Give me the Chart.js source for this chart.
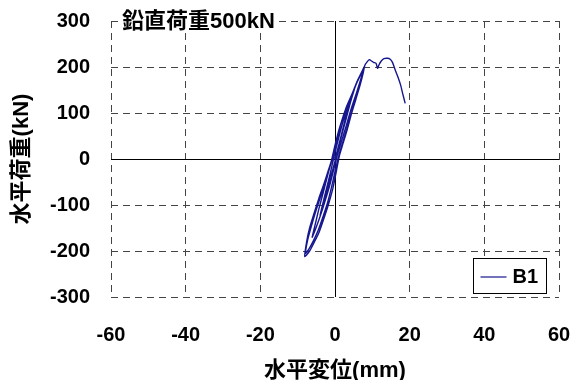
<!DOCTYPE html>
<html>
<head>
<meta charset="utf-8">
<script src="https://cdn.jsdelivr.net/npm/chart.js@4"></script>
<style>
  html, body { margin: 0; padding: 0; background: #fff; }
  #wrap { width: 571px; height: 380px; }
</style>
</head>
<body>
<div id="wrap"><canvas id="mainChart" width="571" height="380"></canvas></div>
<script>
const FONT = "'Liberation Sans', 'Noto Sans CJK JP', Arial, sans-serif";
const LINE_COLOR = '#16168f';

const seriesLabel = 'B1';
const chartTitle = '鉛直荷重500kN';
const xTitle = '水平変位(mm)';
const yTitle = '水平荷重(kN)';
const xTicks = [-60, -40, -20, 0, 20, 40, 60];
const yTicks = [-300, -200, -100, 0, 100, 200, 300];

// horizontal displacement (mm)
const dispX = [
    0, 1.0, 2.0, 3.0, 3.6, 2.8, 1.6, 0.5, -0.4, -1.3, -2.3, -3.3, -4.0, -3.2, -2.1, -1.0, 0.0, 1.0,
    2.0, 3.0, 4.2, 5.5, 4.6, 3.2, 1.8, 0.4, -0.6, -1.8, -3.0, -4.3, -5.3, -6.1, -5.2, -4.0, -2.8, -1.5, -0.4, 0.6,
    1.8, 3.0, 4.3, 5.6, 6.7, 7.5, 7.9,
    7.2, 6.0, 4.5, 3.0, 1.5, 0.2, -0.8, -1.8, -3.0, -4.3, -5.6, -6.8, -7.6, -8.1,
    -6.8, -5.5, -4.2, -3.0, -1.8, -0.6, 0.4, 1.2, 2.2, 3.2, 4.4, 5.6, 6.7, 7.5, 7.8,
    7.0, 5.8, 4.2, 2.8, 1.3, 0.0, -1.0, -2.2, -3.6, -5.0, -6.3, -7.3, -7.9,
    -7.0, -5.8, -4.5, -3.2, -2.0, -0.9, 0.2, 1.1, 2.3, 3.5, 4.7, 5.9, 6.9, 7.6, 8.0,
    8.5, 9.2, 9.8, 10.3, 11.0, 11.4, 11.8, 12.4, 13.1, 14.0, 14.8, 15.4, 16.2, 17.0, 17.6, 18.2, 18.8
];

// horizontal load (kN)
const loadY = [
    0, 30, 62, 95, 118, 100, 65, 30, 0, -32, -65, -98, -122, -100, -68, -35, -5, 28,
    58, 88, 125, 160, 142, 108, 72, 35, 5, -30, -68, -108, -142, -170, -152, -125, -95, -60, -25, 8,
    40, 72, 108, 140, 168, 190, 202,
    190, 170, 140, 112, 75, 35, 0, -25, -55, -85, -118, -150, -180, -212,
    -200, -180, -158, -130, -100, -65, -25, 8, 35, 62, 98, 130, 160, 185, 198,
    185, 165, 132, 105, 70, 30, -5, -38, -75, -110, -145, -175, -205,
    -196, -178, -155, -125, -95, -60, -20, 10, 42, 75, 108, 140, 170, 192, 204,
    210, 216, 213, 210, 208, 197, 205, 213, 218, 219, 217, 210, 192, 175, 160, 140, 121
];

const points = dispX.map((x, i) => ({ x: x, y: loadY[i] }));

// zero lines, title box and legend box like the original sheet
const decorPlugin = {
    id: 'decor',
    beforeDatasetsDraw(chart) {
        const { ctx, chartArea, scales } = chart;
        const x0 = Math.round(scales.x.getPixelForValue(0)) + 0.5;
        const y0 = Math.round(scales.y.getPixelForValue(0)) + 0.5;
        ctx.save();
        ctx.strokeStyle = '#000';
        ctx.lineWidth = 1;
        ctx.beginPath();
        ctx.moveTo(x0, chartArea.top);
        ctx.lineTo(x0, chartArea.bottom);
        ctx.moveTo(chartArea.left, y0);
        ctx.lineTo(chartArea.right, y0);
        ctx.stroke();
        ctx.restore();
    },
    afterDraw(chart) {
        const { ctx, chartArea } = chart;
        ctx.save();
        // title sitting on the top border
        ctx.font = 'bold 22px ' + FONT;
        const tw = ctx.measureText(chartTitle).width;
        ctx.fillStyle = '#fff';
        ctx.fillRect(chartArea.left + 7, chartArea.top - 10, tw + 8, 21);
        ctx.fillStyle = '#000';
        ctx.textBaseline = 'middle';
        ctx.fillText(chartTitle, chartArea.left + 11, chartArea.top + 1);

        // legend box
        const bx = 473.5, by = 258.5, bw = 73, bh = 35;
        ctx.fillStyle = '#fff';
        ctx.fillRect(bx, by, bw, bh);
        ctx.strokeStyle = '#000';
        ctx.lineWidth = 1;
        ctx.strokeRect(bx, by, bw, bh);
        ctx.strokeStyle = LINE_COLOR;
        ctx.lineWidth = 1.2;
        ctx.beginPath();
        ctx.moveTo(bx + 7, by + 18.5);
        ctx.lineTo(bx + 33, by + 18.5);
        ctx.stroke();
        ctx.fillStyle = '#000';
        ctx.font = 'bold 20px ' + FONT;
        ctx.fillText(seriesLabel, bx + 39, by + 19);
        ctx.restore();
    }
};

new Chart(document.getElementById('mainChart').getContext('2d'), {
    type: 'scatter',
    data: {
        datasets: [{
            label: seriesLabel,
            data: points,
            showLine: true,
            borderColor: LINE_COLOR,
            backgroundColor: LINE_COLOR,
            borderWidth: 1.4,
            pointRadius: 0,
            tension: 0.2
        }]
    },
    options: {
        responsive: false,
        animation: false,
        layout: { padding: { left: 0, top: 21, right: 12, bottom: 0 } },
        plugins: {
            legend: { display: false },
            tooltip: { enabled: false }
        },
        scales: {
            x: {
                type: 'linear',
                min: -60,
                max: 60,
                afterBuildTicks: axis => { axis.ticks = xTicks.map(v => ({ value: v })); },
                afterFit: axis => {
                    axis.height = 83;
                    axis.paddingLeft = 0;
                    axis.paddingRight = 0;
                },
                grid: { color: '#444', lineWidth: 1, drawTicks: false },
                border: { display: false, dash: [7, 5] },
                ticks: {
                    color: '#000',
                    padding: 26,
                    maxRotation: 0,
                    font: { family: FONT, size: 20, weight: 'bold' }
                },
                title: {
                    display: true,
                    text: xTitle,
                    color: '#000',
                    padding: { top: 0, bottom: -2 },
                    font: { family: FONT, size: 22, weight: 'bold', lineHeight: 1 }
                }
            },
            y: {
                type: 'linear',
                min: -300,
                max: 300,
                afterBuildTicks: axis => { axis.ticks = yTicks.map(v => ({ value: v })); },
                afterFit: axis => {
                    axis.width = 111;
                    axis.paddingTop = 0;
                    axis.paddingBottom = 0;
                },
                grid: { color: '#444', lineWidth: 1, drawTicks: false },
                border: { display: false, dash: [7, 5] },
                ticks: {
                    color: '#000',
                    padding: 21,
                    font: { family: FONT, size: 20, weight: 'bold' }
                },
                title: {
                    display: true,
                    text: yTitle,
                    color: '#000',
                    padding: { top: 11, bottom: 0 },
                    font: { family: FONT, size: 22, weight: 'bold', lineHeight: 1 }
                }
            }
        }
    },
    plugins: [decorPlugin]
});
</script>
</body>
</html>
